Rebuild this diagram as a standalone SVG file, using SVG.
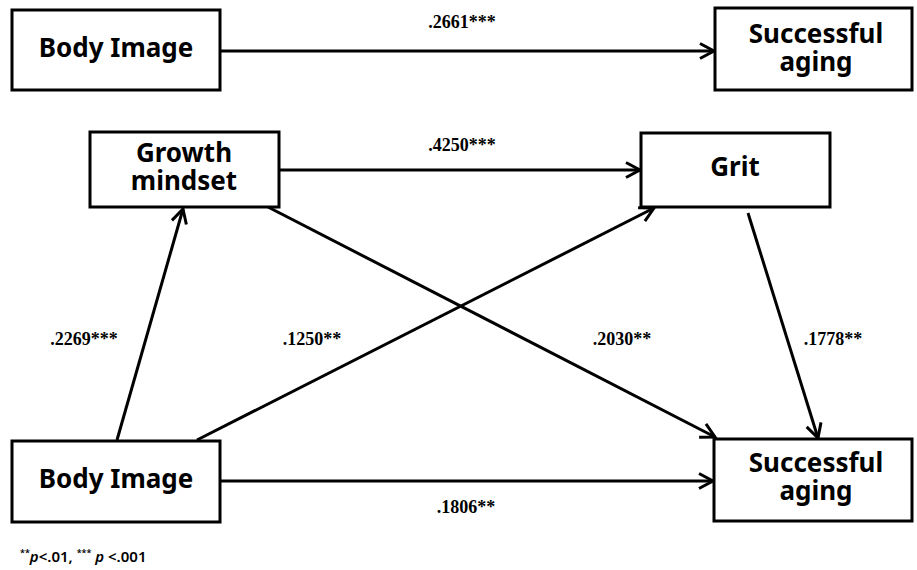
<svg xmlns="http://www.w3.org/2000/svg" width="917" height="570" viewBox="0 0 917 570">
<style>
.box{fill:#fff;stroke:#000;stroke-width:3}
.nt{font-family:"Noto Sans","Liberation Sans",sans-serif;font-weight:bold;font-size:26px;text-anchor:middle;fill:#000}
.lb{font-family:"Liberation Serif","Times New Roman",serif;font-weight:bold;font-size:18px;text-anchor:middle;fill:#000}
.cn{stroke:#000;stroke-width:3;fill:none;marker-end:url(#ah)}
.fn{font-family:"Noto Sans","Liberation Sans",sans-serif;font-size:15px;font-weight:600;fill:#000}
</style>
<defs>
<marker id="ah" markerUnits="userSpaceOnUse" markerWidth="24" markerHeight="24" viewBox="-18 -12 24 24" refX="0" refY="0" orient="auto" overflow="visible">
<path d="M-14,-7.5 L0,0 L-14,7.5" fill="none" stroke="#000" stroke-width="3"/>
</marker>
</defs>
<rect width="917" height="570" fill="#fff"/>
<g id="connectors">
<line class="cn" x1="220" y1="51" x2="714" y2="51"/>
<line class="cn" x1="279" y1="170" x2="640" y2="170"/>
<line class="cn" x1="117" y1="440" x2="183" y2="209"/>
<line class="cn" x1="197" y1="440" x2="654" y2="208"/>
<line class="cn" x1="268" y1="207" x2="715" y2="437"/>
<line class="cn" x1="748" y1="213" x2="818" y2="438"/>
<line class="cn" x1="220" y1="481" x2="713" y2="481"/>
</g>
<g id="labels">
<text class="lb" x="462" y="28">.2661***</text>
<text class="lb" x="462" y="151">.4250***</text>
<text class="lb" x="84" y="345">.2269***</text>
<text class="lb" x="312" y="345">.1250**</text>
<text class="lb" x="622" y="345">.2030**</text>
<text class="lb" x="833" y="345">.1778**</text>
<text class="lb" x="466" y="513">.1806**</text>
</g>
<g id="node-bodyimage-top">
<rect class="box" x="12" y="10" width="208" height="80"/>
<text class="nt" x="116" y="57">Body Image</text>
</g>
<g id="node-successfulaging-top">
<rect class="box" x="715" y="8" width="197" height="82"/>
<text class="nt" x="816" y="43">Successful</text>
<text class="nt" x="816" y="71">aging</text>
</g>
<g id="node-growthmindset">
<rect class="box" x="90" y="132" width="189" height="75"/>
<text class="nt" x="184" y="162">Growth</text>
<text class="nt" x="184" y="190">mindset</text>
</g>
<g id="node-grit">
<rect class="box" x="641" y="133" width="189" height="74"/>
<text class="nt" x="735" y="176">Grit</text>
</g>
<g id="node-bodyimage">
<rect class="box" x="12" y="441" width="208" height="81"/>
<text class="nt" x="116" y="488">Body Image</text>
</g>
<g id="node-successfulaging">
<rect class="box" x="714" y="439" width="198" height="82"/>
<text class="nt" x="816" y="472">Successful</text>
<text class="nt" x="816" y="500">aging</text>
</g>
<text class="fn" x="20" y="562"><tspan font-size="9" dy="-6">**</tspan><tspan font-style="italic" dy="6">p</tspan>&lt;.01, <tspan font-size="9" dy="-6">***</tspan><tspan dy="6"> </tspan><tspan font-style="italic">p</tspan> &lt;.001</text>
</svg>
